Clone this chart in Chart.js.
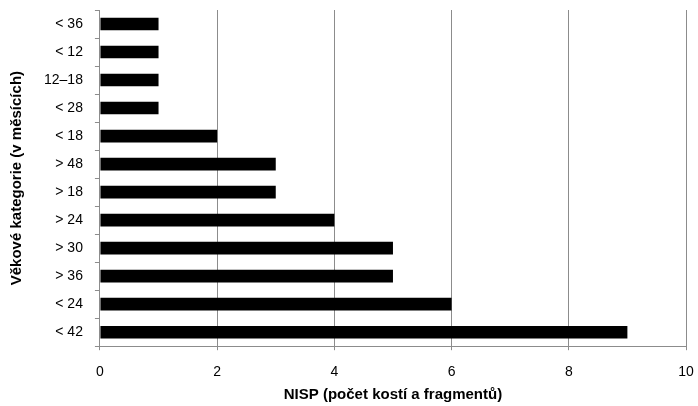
<!DOCTYPE html>
<html>
<head>
<meta charset="utf-8">
<script src="https://cdn.jsdelivr.net/npm/chart.js@4/dist/chart.umd.min.js"></script>
<style>
  html, body { margin: 0; padding: 0; background: #fff; }
  #wrap { width: 698px; height: 406px; }
</style>
</head>
<body>
<div id="wrap"><canvas id="graf"></canvas></div>
<script>
// vekove kategorie (shora dolu) a pocty
const kategorie = ['< 36', '< 12', '12–18', '< 28', '< 18', '> 48', '> 18', '> 24', '> 30', '> 36', '< 24', '< 42'];
const nisp = [1, 1, 1, 1, 2, 3, 3, 4, 5, 5, 6, 9];
const xTicks = [0, 2, 4, 6, 8, 10];

const font = "'Liberation Sans', Arial, sans-serif";

new Chart(document.getElementById('graf'), {
    type: 'bar',
    data: {
        labels: kategorie,
        datasets: [{
            data: nisp,
            backgroundColor: '#000',
            barPercentage: 0.45,
            categoryPercentage: 1
        }]
    },
    options: {
        indexAxis: 'y',
        responsive: true,
        maintainAspectRatio: false,
        animation: false,
        layout: { padding: { top: 10, right: 12, left: 4, bottom: 0 } },
        plugins: { legend: { display: false }, tooltip: { enabled: false } },
        scales: {
            x: {
                min: 0,
                max: 10,
                afterBuildTicks: s => { s.ticks = xTicks.map(v => ({ value: v })); },
                afterFit: s => { s.height -= 9; s.paddingRight = 0; s.paddingLeft = 0; },
                grid: { color: '#8c8c8c', lineWidth: 1, tickLength: 4 },
                border: { color: '#8c8c8c' },
                ticks: { color: '#000', font: { family: font, size: 14 }, padding: 14 },
                title: { display: true, text: 'NISP (počet kostí a fragmentů)', color: '#000',
                         font: { family: font, size: 15, weight: 'bold' }, padding: { top: 0, bottom: 2 } }
            },
            y: {
                afterFit: s => { s.paddingTop = 0; s.paddingBottom = 0; },
                grid: { drawOnChartArea: false, offset: true, color: '#8c8c8c', tickLength: 5 },
                border: { color: '#8c8c8c' },
                ticks: { color: '#000', font: { family: font, size: 14 }, padding: 12 },
                title: { display: true, text: 'Věkové kategorie (v měsících)', color: '#000',
                         font: { family: font, size: 15, weight: 'bold' }, padding: { bottom: 6 } }
            }
        }
    }
});
</script>
</body>
</html>
